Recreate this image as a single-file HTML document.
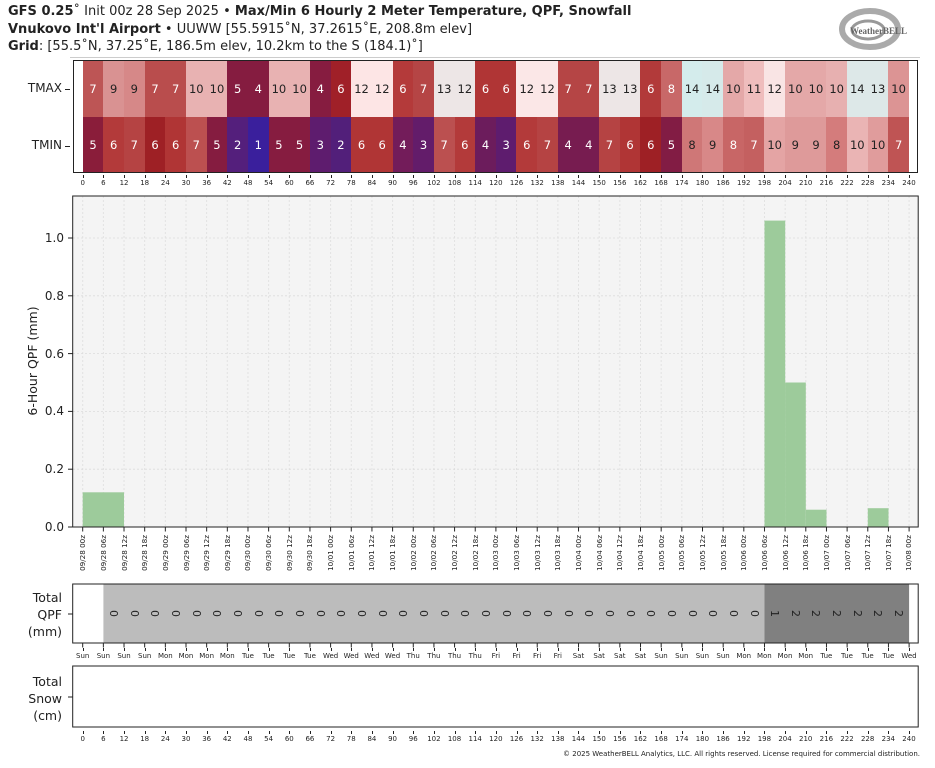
<!DOCTYPE html>
<html><head><meta charset="utf-8"><style>
*{margin:0;padding:0;box-sizing:border-box}
body{width:935px;height:768px;background:#fff;position:relative;overflow:hidden;font-family:"DejaVu Sans","Liberation Sans",sans-serif;color:#222}
.abs{position:absolute}
.hdr{left:8px;font-size:13px;white-space:nowrap;line-height:16px}
.row{position:absolute;left:82.7px;width:826.4px;display:flex}
.row span{flex:1;display:flex;align-items:center;justify-content:center;color:#fff;font-size:11.5px}
.row span.d{color:#222}
.tk{position:absolute;left:72.4px;width:847px;display:flex}
.tk span{flex:1;text-align:center;font-size:7px;position:relative}
.tk span:before{content:"";position:absolute;left:50%;top:-4px;height:3px;border-left:1px solid #222}
.dt{position:absolute;left:72.4px;width:847px;display:flex;top:531px;height:40px}
.dt span{flex:1;display:flex;justify-content:center;align-items:flex-end}
.dt span i{font-style:normal;writing-mode:vertical-rl;transform:rotate(180deg);font-size:7.2px;white-space:nowrap}
.q{position:absolute;left:72.4px;width:847px;display:flex;top:584px;height:59px}
.q span{flex:1;display:flex;justify-content:center;align-items:center;font-size:11px}
.q span i{font-style:normal;transform:rotate(90deg);display:block}
.lab{position:absolute;font-size:12px;text-align:right}
</style></head><body>
<div class="abs hdr" style="top:4px"><b>GFS 0.25</b>˚ Init 00z 28 Sep 2025 • <b>Max/Min 6 Hourly 2 Meter Temperature, QPF, Snowfall</b></div>
<div class="abs hdr" style="top:22px"><b>Vnukovo Int'l Airport</b> • UUWW [55.5915˚N, 37.2615˚E, 208.8m elev]</div>
<div class="abs hdr" style="top:39px"><b>Grid</b>: [55.5˚N, 37.25˚E, 186.5m elev, 10.2km to the S (184.1)˚]</div>
<div class="abs" style="left:70px;top:57px;width:850px;border-top:1px solid #ccc"></div>
<svg class="abs" style="left:830px;top:4px" width="95" height="50"><ellipse cx="40" cy="25" rx="28" ry="18" fill="none" stroke="#aaa" stroke-width="6"/><ellipse cx="38" cy="26" rx="16" ry="9" fill="none" stroke="#999" stroke-width="3"/><text x="20" y="30" font-size="9" font-family="Liberation Serif,serif" font-weight="bold" fill="#666">WeatherBELL</text></svg>

<div class="abs" style="left:72.7px;top:59.5px;width:845.5px;height:113.5px;border:1px solid #222"></div>
<div class="lab" style="left:18px;top:81px;width:44px">TMAX</div>
<div class="lab" style="left:18px;top:138px;width:44px">TMIN</div>
<div class="abs" style="left:65px;top:89px;width:5px;border-top:1px solid #222"></div>
<div class="abs" style="left:65px;top:146px;width:5px;border-top:1px solid #222"></div>
<div class="row" style="top:60.5px;height:56.5px">
<span style="background:#bd5555">7</span><span class="d" style="background:#d99292">9</span><span class="d" style="background:#d68888">9</span><span style="background:#b94d4d">7</span><span style="background:#b94d4d">7</span><span class="d" style="background:#e8b2b2">10</span><span class="d" style="background:#e8b2b2">10</span><span style="background:#851c40">5</span><span style="background:#851c40">4</span><span class="d" style="background:#e8b2b2">10</span><span class="d" style="background:#e8b2b2">10</span><span style="background:#861c40">4</span><span style="background:#a02028">6</span><span class="d" style="background:#fde5e5">12</span><span class="d" style="background:#fde5e5">12</span><span style="background:#b43a3a">6</span><span style="background:#b54545">7</span><span class="d" style="background:#ede6e6">13</span><span class="d" style="background:#ede6e6">12</span><span style="background:#b03535">6</span><span style="background:#b03535">6</span><span class="d" style="background:#fbe7e7">12</span><span class="d" style="background:#fbe7e7">12</span><span style="background:#b54545">7</span><span style="background:#b54545">7</span><span class="d" style="background:#ede6e6">13</span><span class="d" style="background:#ede6e6">13</span><span style="background:#b23a3a">6</span><span style="background:#c86868">8</span><span class="d" style="background:#d4ecec">14</span><span class="d" style="background:#d6eaea">14</span><span class="d" style="background:#e4a8a8">10</span><span class="d" style="background:#efbdbd">11</span><span class="d" style="background:#f9e4e4">12</span><span class="d" style="background:#e4a8a8">10</span><span class="d" style="background:#e4a8a8">10</span><span class="d" style="background:#e7b0b0">10</span><span class="d" style="background:#dde8e8">14</span><span class="d" style="background:#dde8e8">13</span><span class="d" style="background:#dc9494">10</span></div>
<div class="row" style="top:117px;height:55px">
<span style="background:#8a1d3a">5</span><span style="background:#b33a3a">6</span><span style="background:#b54343">7</span><span style="background:#9e2025">6</span><span style="background:#b03535">6</span><span style="background:#bc5050">7</span><span style="background:#851c40">5</span><span style="background:#541f7c">2</span><span style="background:#3a1f9c">1</span><span style="background:#861c40">5</span><span style="background:#861c40">5</span><span style="background:#5e1c6e">3</span><span style="background:#521f7a">2</span><span style="background:#b03535">6</span><span style="background:#b03535">6</span><span style="background:#731c5a">4</span><span style="background:#631c6a">3</span><span style="background:#bb5050">7</span><span style="background:#b33a3a">6</span><span style="background:#6c1c5c">4</span><span style="background:#5e1c6e">3</span><span style="background:#b33a3a">6</span><span style="background:#b54343">7</span><span style="background:#771c50">4</span><span style="background:#771c50">4</span><span style="background:#b54343">7</span><span style="background:#b03535">6</span><span style="background:#9e2025">6</span><span style="background:#821c44">5</span><span class="d" style="background:#cf7777">8</span><span class="d" style="background:#d88888">9</span><span style="background:#c86666">8</span><span style="background:#c46060">7</span><span class="d" style="background:#e4a4a4">10</span><span class="d" style="background:#de9a9a">9</span><span class="d" style="background:#de9a9a">9</span><span class="d" style="background:#d47c7c">8</span><span class="d" style="background:#eab4b4">10</span><span class="d" style="background:#e09c9c">10</span><span style="background:#bf5454">7</span></div>
<div class="tk" style="top:179px"><span>0</span><span>6</span><span>12</span><span>18</span><span>24</span><span>30</span><span>36</span><span>42</span><span>48</span><span>54</span><span>60</span><span>66</span><span>72</span><span>78</span><span>84</span><span>90</span><span>96</span><span>102</span><span>108</span><span>114</span><span>120</span><span>126</span><span>132</span><span>138</span><span>144</span><span>150</span><span>156</span><span>162</span><span>168</span><span>174</span><span>180</span><span>186</span><span>192</span><span>198</span><span>204</span><span>210</span><span>216</span><span>222</span><span>228</span><span>234</span><span>240</span></div>

<svg class="abs" style="left:0;top:0" width="935" height="768">
<defs><pattern id="vp" x="82.2" y="0" width="20.66" height="768" patternUnits="userSpaceOnUse"><line x1="0.5" x2="0.5" y1="0" y2="768" stroke="#dedede" stroke-width="0.8" stroke-dasharray="2,2"/></pattern>
<pattern id="tp" x="82.2" y="0" width="20.66" height="768" patternUnits="userSpaceOnUse"><line x1="0.5" x2="0.5" y1="0" y2="768" stroke="#222" stroke-width="1"/></pattern></defs>
<rect x="72.7" y="196" width="845.5" height="331" fill="#f4f4f4"/>
<rect x="80" y="196" width="832" height="331" fill="url(#vp)"/>
<g stroke="#dcdcdc" stroke-width="0.8" stroke-dasharray="2,2">
<line x1="73" x2="918" y1="469.2" y2="469.2"/><line x1="73" x2="918" y1="411.4" y2="411.4"/><line x1="73" x2="918" y1="353.6" y2="353.6"/><line x1="73" x2="918" y1="295.8" y2="295.8"/><line x1="73" x2="918" y1="238" y2="238"/>
</g>
<g fill="#9dcb9b">
<rect x="82.7" y="492.3" width="41.3" height="34.7"/>
<rect x="764.5" y="220.6" width="20.7" height="306.4"/>
<rect x="785.1" y="382.5" width="20.7" height="144.5"/>
<rect x="805.8" y="509.7" width="20.7" height="17.3"/>
<rect x="867.8" y="508.2" width="20.7" height="18.8"/>
</g>
<rect x="72.7" y="196" width="845.5" height="331" fill="none" stroke="#222" stroke-width="1"/>
<rect x="80" y="527.5" width="832" height="4" fill="url(#tp)"/>
<g stroke="#222"><line x1="68" x2="72.7" y1="527" y2="527"/><line x1="68" x2="72.7" y1="469.2" y2="469.2"/><line x1="68" x2="72.7" y1="411.4" y2="411.4"/><line x1="68" x2="72.7" y1="353.6" y2="353.6"/><line x1="68" x2="72.7" y1="295.8" y2="295.8"/><line x1="68" x2="72.7" y1="238" y2="238"/></g>
<g font-size="12" text-anchor="end" fill="#222" font-family="DejaVu Sans,sans-serif"><text x="64" y="531">0.0</text><text x="64" y="473">0.2</text><text x="64" y="415">0.4</text><text x="64" y="358">0.6</text><text x="64" y="300">0.8</text><text x="64" y="242">1.0</text></g>
<text transform="translate(37,361) rotate(-90)" font-size="12.5" text-anchor="middle" fill="#222" font-family="DejaVu Sans,sans-serif">6-Hour QPF (mm)</text>
<rect x="103.4" y="584" width="661.1" height="59" fill="#bcbcbc"/>
<rect x="764.5" y="584" width="144.6" height="59" fill="#808080"/>
<rect x="72.7" y="584" width="845.5" height="59" fill="none" stroke="#222"/>
<rect x="80" y="643.5" width="832" height="4" fill="url(#tp)"/>
<line x1="68" x2="72.7" y1="614" y2="614" stroke="#222"/>
<rect x="72.7" y="666" width="845.5" height="61" fill="none" stroke="#222"/>
<line x1="68" x2="72.7" y1="697" y2="697" stroke="#222"/>
<g font-size="12.5" text-anchor="end" fill="#222" font-family="DejaVu Sans,sans-serif"><text x="62" y="602">Total</text><text x="62" y="619">QPF</text><text x="62" y="636">(mm)</text><text x="62" y="686">Total</text><text x="62" y="703">Snow</text><text x="62" y="720">(cm)</text></g>
</svg>
<div class="dt"><span><i>09/28 00z</i></span><span><i>09/28 06z</i></span><span><i>09/28 12z</i></span><span><i>09/28 18z</i></span><span><i>09/29 00z</i></span><span><i>09/29 06z</i></span><span><i>09/29 12z</i></span><span><i>09/29 18z</i></span><span><i>09/30 00z</i></span><span><i>09/30 06z</i></span><span><i>09/30 12z</i></span><span><i>09/30 18z</i></span><span><i>10/01 00z</i></span><span><i>10/01 06z</i></span><span><i>10/01 12z</i></span><span><i>10/01 18z</i></span><span><i>10/02 00z</i></span><span><i>10/02 06z</i></span><span><i>10/02 12z</i></span><span><i>10/02 18z</i></span><span><i>10/03 00z</i></span><span><i>10/03 06z</i></span><span><i>10/03 12z</i></span><span><i>10/03 18z</i></span><span><i>10/04 00z</i></span><span><i>10/04 06z</i></span><span><i>10/04 12z</i></span><span><i>10/04 18z</i></span><span><i>10/05 00z</i></span><span><i>10/05 06z</i></span><span><i>10/05 12z</i></span><span><i>10/05 18z</i></span><span><i>10/06 00z</i></span><span><i>10/06 06z</i></span><span><i>10/06 12z</i></span><span><i>10/06 18z</i></span><span><i>10/07 00z</i></span><span><i>10/07 06z</i></span><span><i>10/07 12z</i></span><span><i>10/07 18z</i></span><span><i>10/08 00z</i></span></div>
<div class="q" style="left:82.7px;width:826.4px"><span></span><span><i>0</i></span><span><i>0</i></span><span><i>0</i></span><span><i>0</i></span><span><i>0</i></span><span><i>0</i></span><span><i>0</i></span><span><i>0</i></span><span><i>0</i></span><span><i>0</i></span><span><i>0</i></span><span><i>0</i></span><span><i>0</i></span><span><i>0</i></span><span><i>0</i></span><span><i>0</i></span><span><i>0</i></span><span><i>0</i></span><span><i>0</i></span><span><i>0</i></span><span><i>0</i></span><span><i>0</i></span><span><i>0</i></span><span><i>0</i></span><span><i>0</i></span><span><i>0</i></span><span><i>0</i></span><span><i>0</i></span><span><i>0</i></span><span><i>0</i></span><span><i>0</i></span><span><i>0</i></span><span><i>1</i></span><span><i>2</i></span><span><i>2</i></span><span><i>2</i></span><span><i>2</i></span><span><i>2</i></span><span><i>2</i></span></div>
<div class="tk" style="top:652px"><span>Sun</span><span>Sun</span><span>Sun</span><span>Sun</span><span>Mon</span><span>Mon</span><span>Mon</span><span>Mon</span><span>Tue</span><span>Tue</span><span>Tue</span><span>Tue</span><span>Wed</span><span>Wed</span><span>Wed</span><span>Wed</span><span>Thu</span><span>Thu</span><span>Thu</span><span>Thu</span><span>Fri</span><span>Fri</span><span>Fri</span><span>Fri</span><span>Sat</span><span>Sat</span><span>Sat</span><span>Sat</span><span>Sun</span><span>Sun</span><span>Sun</span><span>Sun</span><span>Mon</span><span>Mon</span><span>Mon</span><span>Mon</span><span>Tue</span><span>Tue</span><span>Tue</span><span>Tue</span><span>Wed</span></div>
<div class="tk" style="top:735px"><span>0</span><span>6</span><span>12</span><span>18</span><span>24</span><span>30</span><span>36</span><span>42</span><span>48</span><span>54</span><span>60</span><span>66</span><span>72</span><span>78</span><span>84</span><span>90</span><span>96</span><span>102</span><span>108</span><span>114</span><span>120</span><span>126</span><span>132</span><span>138</span><span>144</span><span>150</span><span>156</span><span>162</span><span>168</span><span>174</span><span>180</span><span>186</span><span>192</span><span>198</span><span>204</span><span>210</span><span>216</span><span>222</span><span>228</span><span>234</span><span>240</span></div>
<div class="abs" style="right:15px;top:750px;font-size:7px;white-space:nowrap">© 2025 WeatherBELL Analytics, LLC. All rights reserved. License required for commercial distribution.</div>
</body></html>
